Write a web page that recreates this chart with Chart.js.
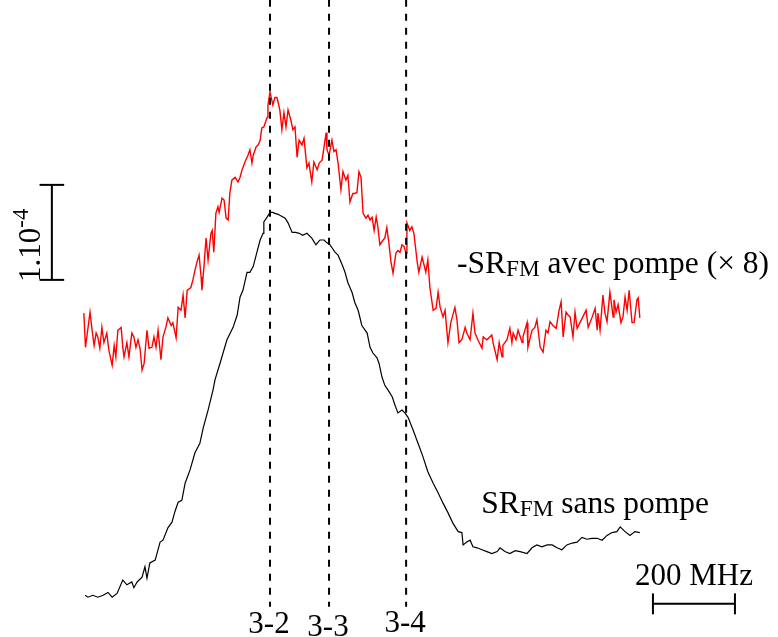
<!DOCTYPE html>
<html>
<head>
<meta charset="utf-8">
<script src="https://cdn.jsdelivr.net/npm/chart.js@4/dist/chart.umd.min.js"></script>
<style>
  html, body { margin: 0; padding: 0; background: #fff; }
  #wrap { width: 778px; height: 637px; }
</style>
</head>
<body>
<div id="wrap"><canvas id="chart" width="778" height="637"></canvas></div>
<script>
// frequency in MHz (0 = transition 3-2), signal in units of 1e-6 (offset, arbitrary zero)
const redFreq = [-454,-450,-439,-433,-429,-424,-420,-415,-410,-405,-398,-393,-385,-380,-376,-371,-363,-359,-356,-349,
  -344,-337,-332,-327,-322,-317,-312,-307,-300,-295,-288,-283,-278,-273,-266,-261,-254,-249,-241,-237,
  -229,-224,-217,-212,-207,-202,-193,-188,-183,-178,-173,-168,-166,-161,-156,-151,-144,-141,-137,-132,
  -127,-124,-117,-112,-107,-102,-98,-93,-85,-78,-73,-68,-61,-54,-49,-44,-41,-34,-29,-24,
  -20,-15,-7,-5,0,7,12,17,24,29,34,39,44,51,56,61,66,71,78,83,
  90,95,102,107,115,120,127,137,139,144,151,156,161,166,173,178,185,190,195,202,
  207,212,217,222,227,234,239,244,249,254,259,263,268,276,280,285,290,295,300,307,
  312,317,322,327,332,334,341,346,351,359,363,371,380,385,390,398,405,410,415,422,
  427,434,441,451,456,461,468,476,480,488,495,500,507,517,520,529,541,544,554,559,
  566,568,578,585,590,593,600,605,615,617,627,629,639,646,651,659,666,673,678,683,
  690,698,705,710,715,722,727,732,739,744,749,756,763,771,776,785,793,798,800,805,
  812,817,822,829,837,839,844,849,856,861,866,871,876,883,888,895,898,902];
const redSignal = [302,266,303,281,268,281,277,265,287,271,281,263,247,268,256,284,287,266,256,271,
  256,281,277,266,274,265,242,249,284,265,266,277,266,284,253,277,287,297,289,292,
  276,308,305,321,297,326,329,337,347,356,363,340,326,351,381,358,386,389,366,407,
  414,408,423,421,402,400,428,442,445,440,445,453,461,468,474,460,468,477,479,484,
  497,498,508,521,535,521,529,529,516,495,513,498,516,505,495,498,466,484,479,486,
  455,460,440,461,453,460,463,492,474,468,484,472,474,460,432,451,442,447,419,428,
  428,429,451,445,407,402,405,400,403,389,403,393,374,379,381,392,376,356,344,365,
  368,366,374,372,365,397,389,393,386,356,345,361,345,358,329,305,307,324,308,298,
  305,271,292,308,295,271,274,287,281,274,302,281,274,265,277,274,279,271,253,271,
  256,268,274,286,271,281,274,284,271,277,292,266,284,287,295,266,261,284,281,293,
  289,286,305,314,277,303,300,298,277,303,286,292,298,305,287,297,307,284,302,284,
  321,302,293,324,298,316,303,311,292,298,319,305,326,292,292,316,318,297];

const blackFreq = [-451,-444,-432,-420,-407,-395,-385,-373,-359,-349,-337,-332,-324,-312,-305,-300,-293,-280,-268,-261,
  -249,-239,-232,-224,-215,-207,-195,-183,-171,-163,-151,-139,-134,-122,-105,-90,-80,-73,-66,-56,
  -49,-41,-32,-24,-17,-15,-7,0,7,12,20,24,37,44,54,63,71,80,90,102,
  112,122,132,139,146,159,166,176,183,190,200,207,215,224,237,244,251,261,266,273,
  280,288,298,305,312,322,329,337,349,361,373,385,398,410,422,434,446,459,468,471,
  480,488,495,505,517,529,541,554,561,573,585,598,610,627,639,651,663,676,688,700,
  712,724,737,749,761,773,785,798,810,822,834,846,854,866,878,890,902];
const blackSignal = [5,3,5,3,5,8,3,7,21,16,19,13,19,24,35,23,39,42,61,63,
  76,82,93,103,105,123,137,155,165,181,200,221,232,249,274,287,300,319,326,345,
  345,351,366,379,386,398,403,408,408,407,406,405,402,397,387,387,386,384,386,381,
  374,379,379,376,374,366,363,353,345,334,324,313,305,289,281,266,260,255,249,235,
  226,221,214,205,197,200,197,192,179,165,151,135,123,113,102,92,81,72,71,58,
  61,63,56,55,53,51,49,51,55,51,49,52,51,49,55,58,56,58,58,55,
  53,58,60,61,66,64,65,65,63,68,71,72,77,72,68,72,71];

const transitionLabels = ['3-2', '3-3', '3-4'];
const transitionFreq = [0, 144, 332];

const signalBar = 100;   // 1.10^-4 in units of 1e-6
const freqBar = 200;     // MHz

// view window (MHz / 1e-6)
const X_MIN = -658.5, X_MAX = 1239;
const Y_MIN = -38.9, Y_MAX = 631.6;

const pts = (xs, ys) => xs.map((x, i) => ({ x, y: ys[i] }));
const seg = (x1, y1, x2, y2) => [{ x: x1, y: y1 }, { x: x2, y: y2 }];

function plainLine(data, color, width) {
  return { data, borderColor: color, borderWidth: width, pointRadius: 0, tension: 0, fill: false };
}

// scale bars anchors
const vBarX = -532, vBarY = 337, vCap = 30;
const hBarX = 934, hBarY = -4, hCap = 11;

const datasets = [];
transitionFreq.forEach(f => {
  datasets.push(Object.assign(plainLine(seg(f, -7, f, Y_MAX + 10), '#000', 2), { borderDash: [7, 7], borderDashOffset: 2 }));
});
datasets.push(plainLine(pts(redFreq, redSignal), '#ff0000', 1.4));
datasets.push(plainLine(pts(blackFreq, blackSignal), '#000', 1.2));
// vertical scale bar
datasets.push(plainLine(seg(vBarX, vBarY, vBarX, vBarY + signalBar), '#000', 2));
datasets.push(plainLine(seg(vBarX - vCap, vBarY, vBarX + vCap, vBarY), '#000', 2));
datasets.push(plainLine(seg(vBarX - vCap, vBarY + signalBar, vBarX + vCap, vBarY + signalBar), '#000', 2));
// horizontal scale bar
datasets.push(plainLine(seg(hBarX, hBarY, hBarX + freqBar, hBarY), '#000', 2));
datasets.push(plainLine(seg(hBarX, hBarY - hCap, hBarX, hBarY + hCap), '#000', 2));
datasets.push(plainLine(seg(hBarX + freqBar, hBarY - hCap, hBarX + freqBar, hBarY + hCap), '#000', 2));

const FONT = '"Liberation Serif", "Times New Roman", serif';

function drawRich(ctx, parts, x, y, size) {
  let cx = x;
  parts.forEach(([t, mode]) => {
    const s = mode ? size * 0.74 : size;
    ctx.font = `${s}px ${FONT}`;
    const dy = mode === 'sub' ? 3 : mode === 'sup' ? -size * 0.38 : 0;
    ctx.fillText(t, cx, y + dy);
    cx += ctx.measureText(t).width;
  });
}

const textPlugin = {
  id: 'texts',
  afterDraw(chart) {
    const { ctx, scales: { x, y } } = chart;
    ctx.save();
    ctx.fillStyle = '#000';
    ctx.textBaseline = 'alphabetic';

    // transition labels
    const labelY = [-34.7, -37.9, -33.7];
    ctx.textAlign = 'center';
    ctx.font = `31px ${FONT}`;
    transitionLabels.forEach((t, i) => {
      ctx.fillText(t, x.getPixelForValue(transitionFreq[i]) - 1, y.getPixelForValue(labelY[i]));
    });

    // 200 MHz
    ctx.fillText(freqBar + ' MHz', x.getPixelForValue(hBarX + freqBar / 2), y.getPixelForValue(16));

    // curve labels
    ctx.textAlign = 'left';
    drawRich(ctx, [['-SR'], ['FM', 'sub'], [' avec pompe (\u00d7 8)']],
      x.getPixelForValue(456), y.getPixelForValue(344), 31.5);
    drawRich(ctx, [['SR'], ['FM', 'sub'], [' sans pompe']],
      x.getPixelForValue(515), y.getPixelForValue(92), 31.5);

    // rotated 1.10^-4
    ctx.translate(40, 282);
    ctx.rotate(-Math.PI / 2);
    drawRich(ctx, [['1.10'], ['-4', 'sup']], 0, 0, 31);
    ctx.restore();
  }
};

new Chart(document.getElementById('chart'), {
  type: 'line',
  data: { datasets },
  options: {
    responsive: false,
    animation: false,
    events: [],
    layout: { padding: 0 },
    plugins: { legend: { display: false }, tooltip: { enabled: false } },
    scales: {
      x: { type: 'linear', min: X_MIN, max: X_MAX, display: false },
      y: { type: 'linear', min: Y_MIN, max: Y_MAX, display: false }
    }
  },
  plugins: [textPlugin]
});
</script>
</body>
</html>
